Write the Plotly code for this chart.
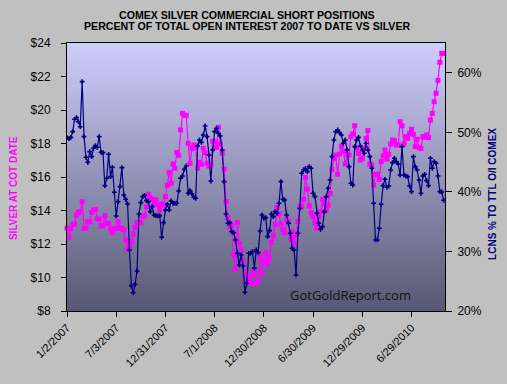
import plotly.graph_objects as go
import pandas as pd

START_DATE = "2007-01-02"
TICK_LABELS = ["1/2/2007", "7/3/2007", "12/31/2007", "7/1/2008",
               "12/30/2008", "6/30/2009", "12/29/2009", "6/29/2010"]
RIGHT_TICKS = [20, 30, 40, 50, 60]

SILVER = [
    12.94, 12.40, 12.92, 13.17, 13.19, 13.73, 13.87, 13.93, 14.53, 12.94,
    12.94, 13.33, 13.33, 13.89, 14.03, 14.07, 13.49, 13.49, 13.09, 13.09,
    13.69, 13.23, 13.23, 12.90, 12.68, 12.90, 12.94, 13.33, 12.94, 12.94,
    12.84, 12.24, 11.68, 11.88, 12.14, 12.60, 13.00, 13.27, 13.27, 13.27,
    13.67, 13.67, 14.23, 14.97, 14.77, 14.67, 14.39, 14.63, 14.33, 14.03,
    14.39, 14.33,
    14.83, 15.50, 16.26, 15.62, 16.78, 16.52, 17.47, 17.29, 18.81, 19.80,
    19.68, 19.68, 18.01, 16.82, 17.71, 17.91, 17.77, 16.54, 16.88, 16.76,
    17.71, 17.45, 16.82, 16.66, 16.72, 18.13, 18.11, 17.77, 18.97, 17.97,
    17.41, 16.46, 14.53, 13.57, 13.03, 13.13, 11.34, 10.49, 13.29, 12.04,
    11.64, 10.95, 10.25, 9.75, 10.05, 9.65, 10.39, 10.29,
    9.65, 9.85, 11.24, 10.29, 10.95, 11.50, 10.81, 11.20, 12.10, 12.48,
    13.17, 14.19, 13.79, 13.19, 12.84, 12.68, 13.47, 13.33, 12.30, 12.74,
    12.00, 12.50, 13.33, 14.23, 14.23, 14.67, 15.98, 15.28, 14.27, 13.87,
    13.63, 13.27, 12.94, 13.63, 13.93, 14.67, 14.39, 14.03, 14.33, 15.03,
    16.46, 17.11, 17.31, 16.16, 17.37, 17.85, 17.55, 16.78, 17.35, 17.31,
    18.41, 18.57, 19.06, 17.71, 17.41, 17.01, 17.11, 17.71, 18.31, 18.77,
    16.76, 16.72, 15.52, 16.16, 16.16, 15.86, 16.92, 17.27, 17.61, 17.07,
    17.35, 17.97, 18.21, 18.17, 17.91, 17.91, 19.30, 19.06, 17.97, 18.41,
    18.31, 18.61, 18.85, 18.55, 17.81, 18.25, 17.75, 17.71, 18.41, 18.37,
    18.51, 18.35, 19.40, 19.80, 20.50, 21.00, 21.77, 22.85, 23.38, 23.38,
]

LCNS_PCT = [
    49.11, 48.94, 49.16, 50.12, 52.19, 52.47, 51.79, 50.95, 58.51, 49.28,
    45.81, 44.97, 46.76, 45.92, 47.32, 47.77, 47.49, 49.28, 46.65, 46.59,
    41.05, 42.28, 46.31, 42.56, 44.13, 39.93, 35.96, 38.36, 40.88, 44.07,
    39.48, 38.76, 37.97, 30.25, 24.21, 23.09, 24.49, 26.72, 36.29, 38.20,
    39.20, 39.43, 38.53, 38.36, 36.69, 37.52, 36.13, 36.01, 35.96, 36.01,
    32.38, 34.84,
    36.97, 37.92, 36.97, 38.48, 38.08, 38.08, 38.08, 40.15, 42.28, 42.67,
    43.79, 44.35, 39.76, 40.21, 39.65, 39.09, 38.92, 47.71, 48.72, 48.32,
    49.56, 51.07, 49.28, 46.20, 41.83, 47.04, 50.12, 50.68, 49.84, 49.39,
    47.04, 41.72, 36.29, 34.73, 34.84, 33.33, 33.16, 31.93, 29.69, 27.73,
    29.41, 27.56, 23.14, 24.65, 29.69, 29.69, 29.97, 27.17,
    30.25, 29.80, 33.44, 36.13, 35.57, 35.68, 32.49, 33.50, 36.29, 35.85,
    36.69, 36.41, 38.08, 41.72, 38.76, 38.64, 36.13, 34.73, 33.05, 30.53,
    30.25, 26.05, 33.05, 37.24, 43.12, 43.68, 43.96, 43.40, 44.24, 43.96,
    39.76, 39.20, 36.41, 34.73, 33.72, 34.17, 36.69, 39.20, 40.60, 42.00,
    45.92, 48.72, 50.12, 50.40, 49.95, 49.56, 48.16, 48.72, 47.04, 44.24,
    41.44, 41.16, 47.60, 48.72, 49.16, 47.71, 47.04, 46.48, 48.16, 47.04,
    45.92, 43.96, 38.08, 31.93, 31.93, 33.89, 37.92, 41.05, 42.11, 40.77,
    40.99, 43.68, 44.91, 45.64, 45.08, 44.69, 42.84, 47.60, 42.84, 42.67,
    42.56, 40.99, 40.04, 45.92, 44.24, 43.68, 42.00, 39.76, 42.67, 42.95,
    41.89, 41.05, 45.64, 43.96, 45.08, 44.80, 42.67, 40.04, 39.99, 38.59,
]

dates = pd.date_range(START_DATE, periods=len(SILVER), freq="7D")
tick_dates = list(dates[::26][:len(TICK_LABELS)])

FONT = "Liberation Sans, Arial, sans-serif"
PINK = "#FF00FF"
NAVY = "#000080"

fig = go.Figure()
fig.add_trace(go.Scatter(
    x=dates, y=SILVER, mode="lines+markers", yaxis="y",
    line=dict(color=PINK, width=1.2),
    marker=dict(symbol="square", size=5, color=PINK),
    showlegend=False, cliponaxis=False,
))
fig.add_trace(go.Scatter(
    x=dates, y=LCNS_PCT, mode="lines+markers", yaxis="y2",
    line=dict(color=NAVY, width=1.2),
    marker=dict(symbol="cross", size=4, color=NAVY),
    showlegend=False,
))

# vertical gradient background of the plot area
top = (206, 206, 252)
bot = (88, 88, 116)
N = 67
shapes = []
for k in range(N):
    t = (k + 0.5) / N
    c = tuple(round(bot[j] + (top[j] - bot[j]) * t) for j in range(3))
    shapes.append(dict(type="rect", xref="paper", yref="paper",
                       x0=0, x1=1, y0=k / N, y1=min(1, (k + 1.1) / N),
                       fillcolor="rgb(%d,%d,%d)" % c, line=dict(width=0),
                       layer="below"))

def ann(text, x, y, size, color, family=FONT, angle=0):
    return dict(text=text, xref="paper", yref="paper", x=x, y=y,
                xanchor="center", yanchor="middle", showarrow=False,
                textangle=angle, font=dict(family=family, size=size, color=color))

annotations = [
    ann("<b>COMEX SILVER COMMERCIAL SHORT POSITIONS</b>", 0.476, 1.106, 10.6, "#000"),
    ann("<b>PERCENT OF TOTAL OPEN INTEREST 2007 TO DATE VS SILVER</b>", 0.476, 1.063, 10.6, "#000"),
    ann("<b>SILVER AT COT DATE</b>", -0.140, 0.459, 10, PINK, angle=-90),
    ann("<b>LCNS % TO TTL O/I COMEX</b>", 1.127, 0.437, 10, NAVY, angle=-90),
    ann("GotGoldReport.com", 0.749, 0.060, 13, "#111", family="Open Sans, sans-serif"),
]

fig.update_layout(
    width=507, height=384, autosize=False,
    margin=dict(l=67, r=62, t=43, b=73, pad=0),
    paper_bgcolor="#C0C0C0", plot_bgcolor="rgb(147,147,184)",
    font=dict(family=FONT, size=12, color="#000"),
    shapes=shapes, annotations=annotations,
    xaxis=dict(
        type="date", range=[dates[0], dates[-1] + pd.Timedelta(days=5)],
        tickvals=tick_dates, ticktext=TICK_LABELS, tickangle=-45,
        ticks="outside", ticklen=5, tickcolor="#000", tickwidth=1,
        showline=True, linecolor="#000", linewidth=1, mirror=True,
        showgrid=False, zeroline=False, tickfont=dict(size=11),
    ),
    yaxis=dict(
        range=[8, 24], dtick=2, tickprefix="$",
        ticks="outside", ticklen=5, tickcolor="#000",
        showline=True, linecolor="#000", linewidth=1,
        showgrid=False, zeroline=False, tickfont=dict(size=12),
        ticklabelstandoff=8,
    ),
    yaxis2=dict(
        overlaying="y", side="right", range=[20, 65],
        tickvals=RIGHT_TICKS, ticktext=["%d%%" % v for v in RIGHT_TICKS],
        ticks="outside", ticklen=6, tickcolor="#000",
        showline=True, linecolor="#000", linewidth=1,
        showgrid=False, zeroline=False, tickfont=dict(size=12),
        ticklabelstandoff=3,
    ),
)

fig.write_html("out.html",
               config={"displayModeBar": False},
               post_script="document.body.style.margin='0';"
                           "document.body.style.background='#C0C0C0';")
